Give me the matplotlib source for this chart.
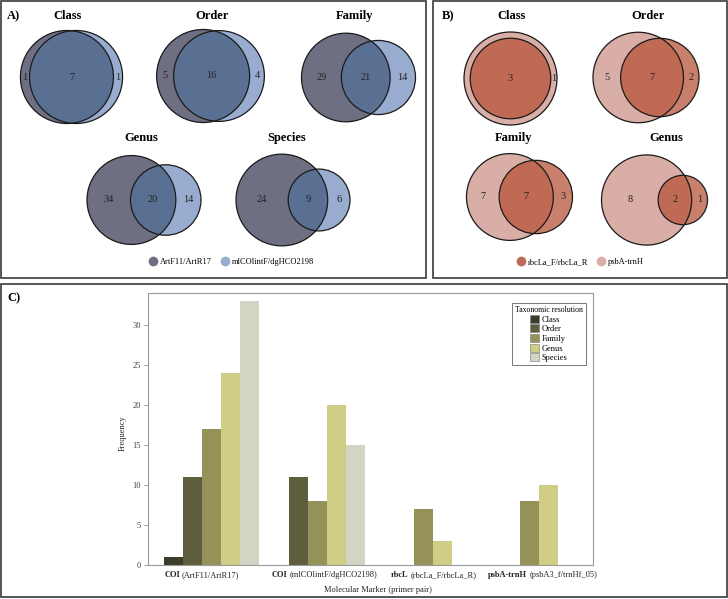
import numpy as np
import matplotlib
matplotlib.use('Agg')
import matplotlib.pyplot as plt
from matplotlib.patches import Circle, Rectangle
from matplotlib.lines import Line2D
from matplotlib.offsetbox import TextArea, HPacker, AnnotationBbox

plt.rcParams['font.family'] = ['Liberation Serif', 'DejaVu Serif']

W, H = 728, 599

# panel A: COI primer pairs (left set, overlap, right set)
coi_names = ['ArtF11/ArtR17', 'mlCOlintF/dgHCO2198']
coi_levels = ['Class', 'Order', 'Family', 'Genus', 'Species']
coi_left = [1, 5, 29, 34, 24]
coi_both = [7, 16, 21, 20, 9]
coi_right = [1, 4, 14, 14, 6]

# panel B: plant markers (left = psbA-trnH, right = rbcL)
plant_names = ['rbcLa_F/rbcLa_R', 'psbA-trnH']
plant_levels = ['Class', 'Order', 'Family', 'Genus']
plant_left = [1, 5, 7, 8]
plant_both = [3, 7, 7, 2]
plant_right = [0, 2, 3, 1]

# panel C: frequencies per marker
marker_bold = ['COI', 'COI', 'rbcL', 'psbA-trnH']
marker_pair = ['(ArtF11/ArtR17)', '(mlCOlintF/dgHCO2198)', '(rbcLa_F/rbcLa_R)', '(psbA3_f/trnHf_05)']
ranks = ['Class', 'Order', 'Family', 'Genus', 'Species']
class_freq = [1, 0, 0, 0]
order_freq = [11, 11, 0, 0]
family_freq = [17, 8, 7, 8]
genus_freq = [24, 20, 3, 10]
species_freq = [33, 15, 0, 0]
rank_colors = ['#3d3c2a', '#5e5e3e', '#949159', '#d0cd86', '#d4d4c4']


def px_axes(fig, cx, cy, bw, bh):
    return fig.add_axes([(cx - bw / 2) / W, 1 - (cy + bh / 2) / H, bw / W, bh / H])


def lens_area(r1, r2, d):
    if d >= r1 + r2:
        return 0.0
    if d <= abs(r1 - r2):
        return np.pi * min(r1, r2) ** 2
    a1 = r1 ** 2 * np.arccos((d * d + r1 * r1 - r2 * r2) / (2 * d * r1))
    a2 = r2 ** 2 * np.arccos((d * d + r2 * r2 - r1 * r1) / (2 * d * r2))
    a3 = 0.5 * np.sqrt((-d + r1 + r2) * (d + r1 - r2) * (d - r1 + r2) * (d + r1 + r2))
    return a1 + a2 - a3


def solve_distance(r1, r2, target):
    if target >= np.pi * min(r1, r2) ** 2 - 1e-9:
        return 0.0
    lo, hi = abs(r1 - r2), r1 + r2
    for _ in range(80):
        mid = (lo + hi) / 2
        if lens_area(r1, r2, mid) > target:
            lo = mid
        else:
            hi = mid
    return (lo + hi) / 2


def draw_venn(ax, n1, n12, n2, c1, c2, c12):
    r1 = np.sqrt((n1 + n12) / np.pi)
    r2 = np.sqrt((n2 + n12) / np.pi)
    d = solve_distance(r1, r2, n12)
    p1 = Circle((0, 0), r1, fc=c1, ec='none', clip_on=False)
    p2 = Circle((d, 0), r2, fc=c2, ec='none', clip_on=False)
    ax.add_patch(p1)
    ax.add_patch(p2)
    p12 = Circle((d, 0), r2, fc=c12, ec='none')
    ax.add_patch(p12)
    p12.set_clip_path(p1)
    p12.set_clip_box(None)
    for c, r in [((0, 0), r1), ((d, 0), r2)]:
        ax.add_patch(Circle(c, r, fc='none', ec='#1a1a1a', lw=0.9, clip_on=False))
    if d == 0:
        spots = [((r2 + r1) / 2, n1), (0, n12)]
    else:
        spots = [((-r1 + d - r2) / 2, n1), ((d - r2 + r1) / 2, n12), ((r1 + d + r2) / 2, n2)]
    for x, n in spots:
        if n > 0:
            ax.text(x, 0, str(n), ha='center', va='center', fontsize=7.5, color='#222222')
    xmin, xmax = min(-r1, d - r2), max(r1, d + r2)
    ymax = max(r1, r2)
    ax.set_xlim(xmin, xmax)
    ax.set_ylim(-ymax, ymax)
    ax.set_aspect('equal', adjustable='datalim')
    ax.set_axis_off()


fig = plt.figure(figsize=(W / 100, H / 100), dpi=100)

# panel frames
for x0, y0, x1, y1 in [(1, 1, 426, 278), (433, 1, 727, 278), (1, 284, 727, 597)]:
    fig.patches.append(Rectangle((x0 / W, 1 - y1 / H), (x1 - x0) / W, (y1 - y0) / H,
                                 transform=fig.transFigure, fc='none', ec='#3a3a3a', lw=1.2))

fig.text(7 / W, 1 - 16 / H, 'A)', fontsize=9, fontweight='bold', va='center')
fig.text(442 / W, 1 - 16 / H, 'B)', fontsize=9, fontweight='bold', va='center')
fig.text(7 / W, 1 - 298 / H, 'C)', fontsize=9, fontweight='bold', va='center')

# panel A venns
a_centers = [(71.5, 77), (210.5, 76), (358.5, 77.5), (144, 200), (293, 200)]
a_titles = [(68, 16), (212, 16), (355, 16), (141, 138), (287, 138)]
a_dark, a_light, a_mix = '#6e6f82', '#98acd0', '#5a7092'
for i, lvl in enumerate(coi_levels):
    ax = px_axes(fig, a_centers[i][0], a_centers[i][1], 114, 93)
    draw_venn(ax, coi_left[i], coi_both[i], coi_right[i], a_dark, a_light, a_mix)
    fig.text(a_titles[i][0] / W, 1 - a_titles[i][1] / H, lvl, fontsize=9,
             fontweight='bold', ha='center', va='center')

# panel B venns
b_centers = [(510.5, 78.5), (646, 77.5), (519.5, 197), (654.5, 200)]
b_titles = [(512, 16), (648, 16), (514, 138), (666, 138)]
b_pink, b_red, b_mix = '#d9aea6', '#c8806c', '#c06a56'
for i, lvl in enumerate(plant_levels):
    ax = px_axes(fig, b_centers[i][0], b_centers[i][1], 106, 93)
    draw_venn(ax, plant_left[i], plant_both[i], plant_right[i], b_pink, b_red, b_mix)
    fig.text(b_titles[i][0] / W, 1 - b_titles[i][1] / H, lvl, fontsize=9,
             fontweight='bold', ha='center', va='center')

# venn legends
def venn_legend(cx, cy, names, colors):
    handles = [Line2D([], [], ls='none', marker='o', ms=7, mfc=c, mec='none') for c in colors]
    fig.legend(handles, names, loc='center', bbox_to_anchor=(cx / W, 1 - cy / H), ncol=2,
               frameon=False, fontsize=6, handletextpad=0.2, columnspacing=1.0,
               handlelength=1.2)

venn_legend(231, 262, coi_names, [a_dark, a_light])
venn_legend(580, 262, plant_names, [b_mix, b_pink])

# panel C bar chart
ax = fig.add_axes([148 / W, 1 - 565 / H, (593 - 148) / W, (565 - 293) / H])
x = np.arange(len(marker_bold))
bw = 0.18
series = [class_freq, order_freq, family_freq, genus_freq, species_freq]
for k, (name, vals) in enumerate(zip(ranks, series)):
    ax.bar(x + (k - 2) * bw, vals, width=bw, color=rank_colors[k], label=name, lw=0)
ax.set_xlim(-0.6, 3.6)
ax.set_ylim(0, 34)
ax.set_yticks(range(0, 31, 5))
ax.set_xticks([])
ax.tick_params(axis='y', labelsize=6, length=3, width=0.6, colors='#888888', labelcolor='#444444', pad=2)
for s in ax.spines.values():
    s.set_color('#9a9a9a')
    s.set_linewidth(0.8)

label_shift = [-7, 5, 7.5, 9.5]  # points
for i in range(len(marker_bold)):
    box = HPacker(children=[TextArea(marker_bold[i], textprops=dict(fontsize=6, fontweight='bold', color='#222222')),
                            TextArea(marker_pair[i], textprops=dict(fontsize=6, color='#222222'))],
                  align='baseline', pad=0, sep=1.5)
    ab = AnnotationBbox(box, (x[i], 0), xycoords=('data', 'axes fraction'), xybox=(label_shift[i], -7.5),
                        boxcoords='offset points', frameon=False, box_alignment=(0.5, 0.5),
                        annotation_clip=False, pad=0)
    ax.add_artist(ab)

ax.text(0.516, -0.093, 'Molecular Marker (primer pair)', transform=ax.transAxes, fontsize=6,
        ha='center', va='center', color='#222222')
fig.text(123 / W, 1 - 433 / H, 'Frequency', rotation=90, fontsize=6, ha='center', va='center',
         color='#222222')

leg = ax.legend(title='Taxonomic resolution', loc='upper right', bbox_to_anchor=(0.984, 0.963),
                fontsize=6, title_fontsize=5.6, fancybox=False, framealpha=1, edgecolor='#777777',
                handlelength=1.0, handleheight=1.1, handletextpad=0.4, labelspacing=0.1,
                borderpad=0.35, borderaxespad=0)
leg.get_frame().set_linewidth(0.7)
for p in leg.get_patches():
    p.set_edgecolor('#888888')
    p.set_linewidth(0.5)

fig.savefig('out.png', dpi=100)
